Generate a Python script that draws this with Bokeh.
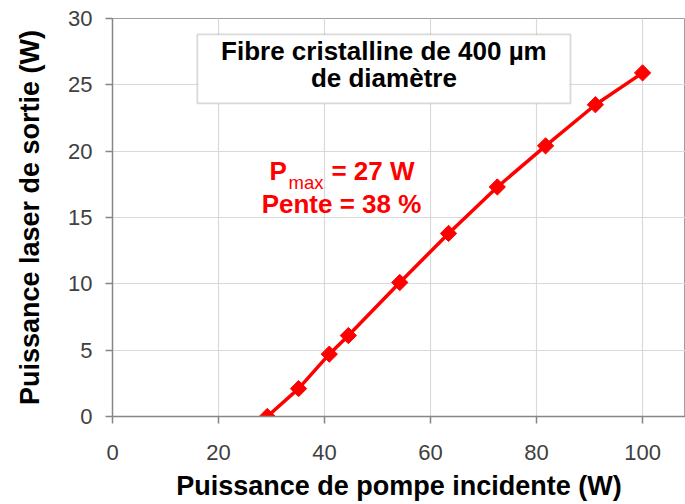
from bokeh.plotting import figure
from bokeh.models import Range1d, Label, BoxAnnotation, FixedTicker
from bokeh.embed import file_html
from bokeh.resources import INLINE

pump_power = [29.2, 35.1, 40.9, 44.5, 54.2, 63.4, 72.6, 81.7, 91.1, 100.0]
laser_power = [0.0, 2.1, 4.7, 6.1, 10.1, 13.8, 17.3, 20.4, 23.5, 25.9]
x_ticks = [0, 20, 40, 60, 80, 100]
y_ticks = [0, 5, 10, 15, 20, 25, 30]

FONT = "Liberation Sans"
RED = "#ff0000"

p = figure(width=685, height=503, output_backend="svg", toolbar_location=None,
           x_range=Range1d(0, 108.1), y_range=Range1d(0, 30),
           min_border_left=112, min_border_right=0, min_border_top=18, min_border_bottom=87)

p.background_fill_color = "white"
p.border_fill_color = "white"
p.outline_line_color = "#a0a0a0"
p.outline_line_width = 1

for ax, ticks in ((p.xaxis[0], x_ticks), (p.yaxis[0], y_ticks)):
    ax.ticker = FixedTicker(ticks=ticks)
    ax.axis_line_color = "#868686"
    ax.axis_line_width = 1.5
    ax.major_tick_line_color = "#868686"
    ax.major_tick_line_width = 1.5
    ax.major_tick_out = 7
    ax.major_tick_in = 0
    ax.minor_tick_line_color = None
    ax.major_label_text_font = FONT
    ax.major_label_text_font_size = "22px"
    ax.major_label_text_color = "#404040"
    ax.axis_label_text_font = FONT
    ax.axis_label_text_font_style = "bold"
    ax.axis_label_text_color = "black"

p.xaxis.axis_label = "Puissance de pompe incidente (W)"
p.yaxis.axis_label = "Puissance laser de sortie (W)"
p.xaxis.axis_label_text_font_size = "27px"
p.yaxis.axis_label_text_font_size = "27px"
p.xaxis.major_label_standoff = 21
p.xaxis.axis_label_standoff = 8
p.yaxis.major_label_standoff = 13
p.yaxis.axis_label_standoff = 20

p.xgrid.ticker = FixedTicker(ticks=x_ticks)
p.ygrid.ticker = FixedTicker(ticks=y_ticks)
p.grid.grid_line_color = "#d9d9d9"
p.grid.grid_line_width = 1.2

p.line(pump_power, laser_power, line_color=RED, line_width=3.5)
p.scatter(pump_power, laser_power, marker="square", size=11.5, angle=0.785398,
          fill_color=RED, line_color=RED)

# title box
p.add_layout(BoxAnnotation(left=16.0, right=86.4, bottom=23.6, top=28.8,
                           fill_color="white", fill_alpha=1.0,
                           line_color="#808080", line_width=1.8))
p.add_layout(Label(x=51.2, y=27.55, text="Fibre cristalline de 400 µm",
                   text_font=FONT, text_font_style="bold", text_font_size="26px",
                   text_align="center", text_baseline="middle", text_color="black"))
p.add_layout(Label(x=51.2, y=25.55, text="de diamètre",
                   text_font=FONT, text_font_style="bold", text_font_size="26px",
                   text_align="center", text_baseline="middle", text_color="black"))

# red annotation
p.add_layout(Label(x=29.6, y=18.5, text="P", text_font=FONT, text_font_style="bold",
                   text_font_size="26px", text_align="left", text_baseline="middle",
                   text_color=RED))
p.add_layout(Label(x=33.2, y=17.65, text="max", text_font=FONT,
                   text_font_size="18.5px", text_align="left", text_baseline="middle",
                   text_color=RED))
p.add_layout(Label(x=41.3, y=18.5, text="= 27 W", text_font=FONT, text_font_style="bold",
                   text_font_size="26px", text_align="left", text_baseline="middle",
                   text_color=RED))
p.add_layout(Label(x=43.2, y=16.05, text="Pente = 38 %", text_font=FONT, text_font_style="bold",
                   text_font_size="26px", text_align="center", text_baseline="middle",
                   text_color=RED))

open("out.html", "w").write(file_html(p, INLINE))
